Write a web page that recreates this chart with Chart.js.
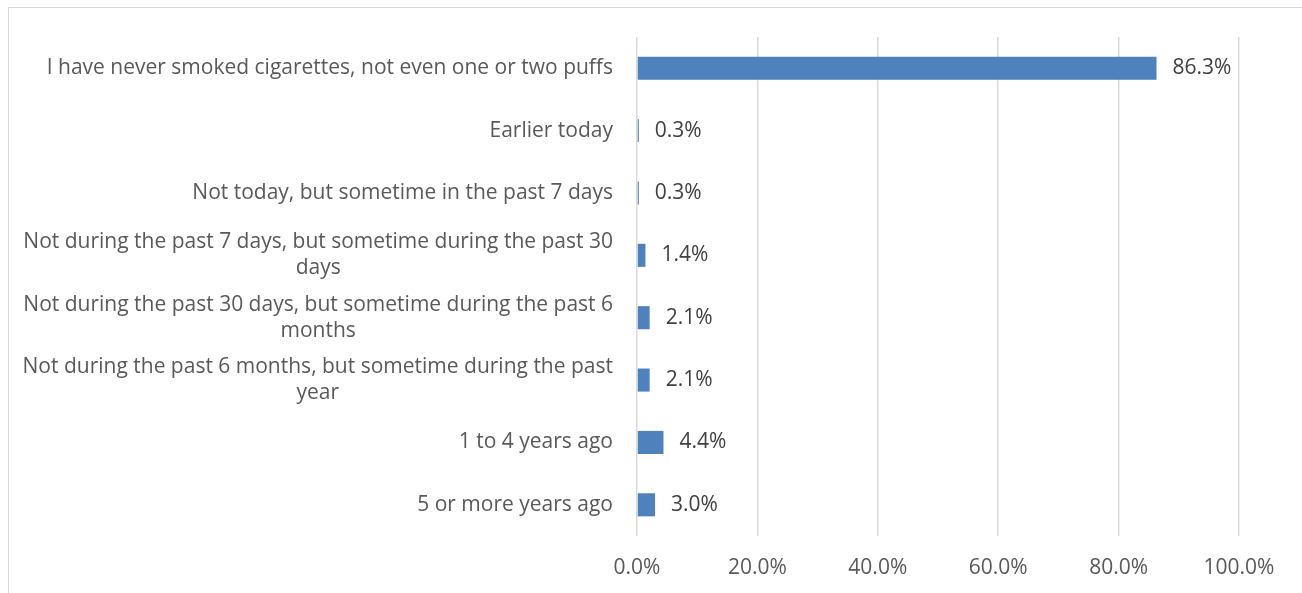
<!DOCTYPE html>
<html>
<head>
<meta charset="utf-8">
<script src="https://cdn.jsdelivr.net/npm/chart.js@4/dist/chart.umd.min.js"></script>
<style>
  html, body { margin: 0; padding: 0; background: #fff; overflow: hidden; }
  #wrap { position: relative; width: 1302px; height: 593px; }
  #frame { position: absolute; left: 8px; top: 7px; width: 1400px; height: 700px; border: 1.5px solid #d9d9d9; box-sizing: border-box; pointer-events: none; }
  canvas { position: absolute; left: 0; top: 0; }
</style>
</head>
<body>
<div id="wrap">
  <div id="frame"></div>
  <canvas id="c" width="1302" height="593"></canvas>
</div>
<script>
const categories = [
  ["I have never smoked cigarettes, not even one or two puffs"],
  ["Earlier today"],
  ["Not today, but sometime in the past 7 days"],
  ["Not during the past 7 days, but sometime during the past 30", "days"],
  ["Not during the past 30 days, but sometime during the past 6", "months"],
  ["Not during the past 6 months, but sometime during the past", "year"],
  ["1 to 4 years ago"],
  ["5 or more years ago"]
];
const values = [86.3, 0.3, 0.3, 1.4, 2.1, 2.1, 4.4, 3.0];
const xTicks = [0, 20, 40, 60, 80, 100];

const FONT = "'Open Sans', Lato, sans-serif";
const AXIS_COLOR = '#595959';
const LABEL_COLOR = '#404040';
const LABEL_SIZE = 21;

const catLabelPlugin = {
  id: 'catLabels',
  afterDraw(chart) {
    const ctx = chart.ctx;
    const y = chart.scales.y;
    const rightX = chart.chartArea.left - 24;
    ctx.save();
    ctx.font = LABEL_SIZE + 'px ' + FONT;
    ctx.fillStyle = AXIS_COLOR;
    ctx.textBaseline = 'middle';
    const lh = 26;
    categories.forEach((lines, i) => {
      const cy = y.getPixelForValue(i);
      const n = lines.length;
      const y0 = cy - (n - 1) * lh / 2;
      if (n === 1) {
        ctx.textAlign = 'right';
        ctx.fillText(lines[0], rightX, y0);
      } else {
        const w = Math.max(...lines.map(l => ctx.measureText(l).width));
        const cx = rightX - w / 2;
        ctx.textAlign = 'center';
        lines.forEach((l, k) => ctx.fillText(l, cx, y0 + k * lh));
      }
    });
    ctx.restore();
  }
};

const valueLabelPlugin = {
  id: 'valueLabels',
  afterDatasetsDraw(chart) {
    const ctx = chart.ctx;
    const meta = chart.getDatasetMeta(0);
    ctx.save();
    ctx.font = LABEL_SIZE + 'px ' + FONT;
    ctx.fillStyle = LABEL_COLOR;
    ctx.textAlign = 'left';
    ctx.textBaseline = 'middle';
    meta.data.forEach((bar, i) => {
      ctx.fillText(values[i].toFixed(1) + '%', bar.x + 16, bar.y);
    });
    ctx.restore();
  }
};

new Chart(document.getElementById('c'), {
  type: 'bar',
  data: {
    labels: categories.map(l => l.join(' ')),
    datasets: [{
      data: values,
      backgroundColor: '#4F81BD',
      borderWidth: 0,
      categoryPercentage: 1,
      barPercentage: 0.37
    }]
  },
  options: {
    indexAxis: 'y',
    responsive: false,
    animation: false,
    devicePixelRatio: 1,
    layout: { padding: { top: 37, right: 63, left: 0, bottom: 0 } },
    plugins: { legend: { display: false }, tooltip: { enabled: false } },
    scales: {
      x: {
        min: 0, max: 100,
        afterBuildTicks(scale) { scale.ticks = xTicks.map(v => ({ value: v })); },
        afterFit(scale) { scale.height = 57; },
        grid: { color: '#d9d9d9', lineWidth: 1.5, drawTicks: false },
        border: { display: false },
        ticks: {
          padding: 19,
          color: AXIS_COLOR,
          font: { family: FONT, size: LABEL_SIZE },
          callback: v => v.toFixed(1) + '%'
        }
      },
      y: {
        afterFit(scale) { scale.width = 637; },
        grid: { display: false, drawTicks: false },
        border: { display: false },
        ticks: { display: false }
      }
    }
  },
  plugins: [catLabelPlugin, valueLabelPlugin]
});
</script>
</body>
</html>
